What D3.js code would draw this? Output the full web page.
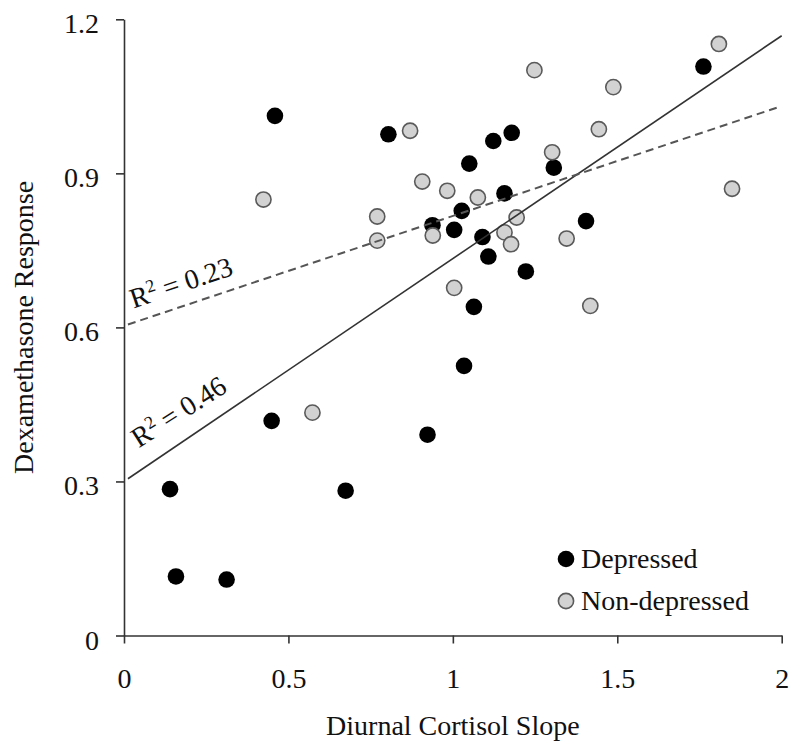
<!DOCTYPE html>
<html>
<head>
<meta charset="utf-8">
<script src="https://cdn.jsdelivr.net/npm/d3@7"></script>
<style>
  html, body { margin: 0; padding: 0; background: #fff; }
  svg { display: block; }
  text { font-family: "Liberation Serif", "Times New Roman", serif; fill: #111; }
</style>
</head>
<body>
<svg id="chart" width="800" height="753"></svg>
<script>
// ---- data ----
const depressedX = [0.459, 0.804, 1.762, 1.179, 1.123, 1.307, 1.050, 1.157, 1.027, 0.938, 1.004, 1.090, 1.405, 1.108, 1.222, 1.064, 1.034, 0.449, 0.140, 0.674, 0.158, 0.312, 0.923];
const depressedY = [1.012, 0.976, 1.108, 0.979, 0.963, 0.911, 0.919, 0.861, 0.827, 0.799, 0.790, 0.776, 0.807, 0.738, 0.709, 0.640, 0.525, 0.418, 0.285, 0.282, 0.115, 0.109, 0.391];
const nonDepX = [0.424, 0.770, 0.770, 1.248, 1.809, 1.488, 0.870, 1.444, 1.302, 0.907, 0.983, 1.076, 1.849, 0.939, 1.194, 1.157, 1.177, 1.346, 1.004, 1.418, 0.573];
const nonDepY = [0.849, 0.816, 0.769, 1.101, 1.152, 1.068, 0.983, 0.986, 0.941, 0.884, 0.866, 0.853, 0.870, 0.779, 0.814, 0.785, 0.762, 0.773, 0.677, 0.642, 0.434];
const xTicks = [0, 0.5, 1, 1.5, 2];
const xTickLabels = ["0", "0.5", "1", "1.5", "2"];
const yTicks = [0, 0.3, 0.6, 0.9, 1.2];
const yTickLabels = ["0", "0.3", "0.6", "0.9", "1.2"];
const fitNames = ["depressed", "nondepressed"];
const fitIntercepts = [0.300, 0.603];
const fitSlopes = [0.434, 0.214];
const fitXStart = [0.012, 0.012];
const fitXEnd = [2.0, 1.99];
const fitLabelValues = ["0.46", "0.23"];
const fitLabelX = [0.045, 0.029];
const fitLabelY = [0.3646, 0.637];
const legendLabels = ["Depressed", "Non-depressed"];
const xTitle = "Diurnal Cortisol Slope";
const yTitle = "Dexamethasone Response";

// ---- layout ----
const svg = d3.select("#chart");
const x = d3.scaleLinear().domain([0, 2]).range([124, 781.7]);
const y = d3.scaleLinear().domain([0, 1.2]).range([635.5, 19.3]);
const axisColor = "#333";
const fontSize = 28;

// axes
const xAxis = svg.append("g").attr("transform", `translate(0,${y(0)})`)
  .call(d3.axisBottom(x).tickValues(xTicks).tickSize(8).tickSizeOuter(0).tickFormat((d, i) => xTickLabels[i]));
const yAxis = svg.append("g").attr("transform", `translate(${x(0)},0)`)
  .call(d3.axisLeft(y).tickValues(yTicks).tickSize(8).tickSizeOuter(0).tickFormat((d, i) => yTickLabels[i]));

[xAxis, yAxis].forEach(g => {
  g.select(".domain").attr("stroke", axisColor).attr("stroke-width", 1.6);
  g.selectAll(".tick line").attr("stroke", axisColor).attr("stroke-width", 1.6);
  g.selectAll(".tick text").attr("fill", "#111")
    .style("font-family", '"Liberation Serif", "Times New Roman", serif')
    .style("font-size", fontSize + "px");
});
xAxis.selectAll(".tick text").attr("y", 0).attr("dy", 0).attr("transform", "translate(0,52.5)");
yAxis.selectAll(".tick text").attr("x", -25).attr("dy", 0).attr("transform", "translate(0,13.5)");

// axis titles
svg.append("text").attr("x", (x(0) + x(2)) / 2).attr("y", 735)
  .attr("text-anchor", "middle").style("font-size", fontSize + "px").text(xTitle);
svg.append("text")
  .attr("transform", `translate(33,${(y(0) + y(1.2)) / 2}) rotate(-90)`)
  .attr("text-anchor", "middle").style("font-size", fontSize + "px").text(yTitle);

// points (black first, grey on top)
const dep = depressedX.map((d, i) => ({ x: d, y: depressedY[i] }));
const non = nonDepX.map((d, i) => ({ x: d, y: nonDepY[i] }));
svg.append("g").selectAll("circle").data(dep).join("circle")
  .attr("cx", d => x(d.x)).attr("cy", d => y(d.y)).attr("r", 8.3)
  .attr("fill", "#000");
svg.append("g").selectAll("circle").data(non).join("circle")
  .attr("cx", d => x(d.x)).attr("cy", d => y(d.y)).attr("r", 7.6)
  .attr("fill", "#d2d2d2").attr("stroke", "#5a5a5a").attr("stroke-width", 1.6);

// fit lines
const fits = fitNames.map((n, i) => ({
  name: n, a: fitIntercepts[i], b: fitSlopes[i], x0: fitXStart[i], x1: fitXEnd[i],
  val: fitLabelValues[i], lx: fitLabelX[i], ly: fitLabelY[i]
}));
fits.forEach((f, i) => {
  const p0 = [x(f.x0), y(f.a + f.b * f.x0)];
  const p1 = [x(f.x1), y(f.a + f.b * f.x1)];
  svg.append("line")
    .attr("x1", p0[0]).attr("y1", p0[1]).attr("x2", p1[0]).attr("y2", p1[1])
    .attr("stroke", i === 0 ? "#333" : "#555")
    .attr("stroke-width", i === 0 ? 1.6 : 2)
    .attr("stroke-dasharray", i === 0 ? null : "8,5");
  const ang = Math.atan2(p1[1] - p0[1], p1[0] - p0[0]) * 180 / Math.PI;
  const t = svg.append("text")
    .attr("transform", `translate(${x(f.lx)},${y(f.ly)}) rotate(${i === 0 ? ang + 1.5 : ang})`)
    .style("font-size", fontSize + "px");
  t.append("tspan").text("R");
  t.append("tspan").attr("dy", -10).style("font-size", "18px").text("2");
  t.append("tspan").attr("dy", 10).text(" = " + f.val);
});

// legend
const legend = svg.append("g");
const legY = [559, 601];
legendLabels.forEach((lab, i) => {
  const c = legend.append("circle").attr("cx", 566).attr("cy", legY[i]).attr("r", i === 0 ? 8.3 : 7.6);
  if (i === 0) c.attr("fill", "#000");
  else c.attr("fill", "#d2d2d2").attr("stroke", "#5a5a5a").attr("stroke-width", 1.6);
  legend.append("text").attr("x", 581).attr("y", legY[i] + 9).style("font-size", fontSize + "px").text(lab);
});
</script>
</body>
</html>
